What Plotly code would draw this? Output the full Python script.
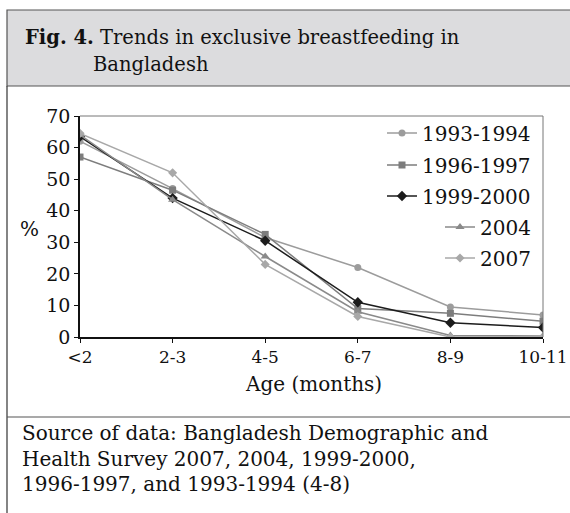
import plotly.graph_objects as go

categories = ["<2", "2-3", "4-5", "6-7", "8-9", "10-11"]
s1993 = [62, 47, 31.5, 22, 9.5, 7]
s1996 = [57, 46.5, 32.5, 9, 7.5, 5]
s1999 = [63.5, 44, 30.5, 11, 4.5, 3]
s2004 = [64, 43.5, 25.5, 8, 0.5, 0.3]
s2007 = [64.5, 52, 23, 6.5, 0, 0]
y_ticks = [0, 10, 20, 30, 40, 50, 60, 70]

W, H = 570, 513
L, R, T, B = 80, 543, 116, 337
FONT = "DejaVu Serif"

def px(x):
    return (x - L) / (R - L)

def py(y):
    return (B - y) / (B - T)

series = [
    ("1993-1994", s1993, "#9c9c9c", "circle", 7),
    ("1996-1997", s1996, "#7d7d7d", "square", 7),
    ("1999-2000", s1999, "#1c1c1c", "diamond", 8),
    ("2004", s2004, "#8a8a8a", "triangle-up", 8),
    ("2007", s2007, "#a8a8a8", "diamond", 7),
]
leg_y = [133, 165, 196, 227, 258]

fig = go.Figure()
for i, (name, vals, col, sym, ms) in enumerate(series):
    lk = "legend" if i == 0 else f"legend{i+1}"
    fig.add_trace(go.Scatter(
        x=categories, y=vals, name=name, mode="lines+markers",
        line=dict(color=col, width=1.5),
        marker=dict(symbol=sym, size=ms, color=col),
        legend=lk,
    ))

layout_legends = {}
for i in range(5):
    lk = "legend" if i == 0 else f"legend{i+1}"
    layout_legends[lk] = dict(
        x=px(536), y=py(leg_y[i]), xanchor="right", yanchor="middle",
        bgcolor="rgba(0,0,0,0)", borderwidth=0,
        font=dict(family=FONT, size=20, color="#111"),
        itemwidth=30, tracegroupgap=0,
    )

shapes = [
    dict(type="rect", xref="paper", yref="paper", x0=px(7), x1=px(575), y0=py(86), y1=py(10),
         fillcolor="#dcdcde", line=dict(color="#555", width=1.2), layer="below"),
    dict(type="line", xref="paper", yref="paper", x0=px(7), x1=px(7), y0=py(86), y1=py(520),
         line=dict(color="#333", width=1.2)),
    dict(type="line", xref="paper", yref="paper", x0=px(7), x1=px(575), y0=py(417), y1=py(417),
         line=dict(color="#555", width=1.2)),
    dict(type="line", xref="paper", yref="paper", x0=0, x1=1, y0=1, y1=1,
         line=dict(color="#777", width=1)),
    dict(type="line", xref="paper", yref="paper", x0=1, x1=1, y0=0, y1=1,
         line=dict(color="#777", width=1)),
]

annotations = [
    dict(text="<b>Fig. 4.</b> Trends in exclusive breastfeeding in", xref="paper", yref="paper",
         x=px(23), y=py(38), xanchor="left", yanchor="middle", showarrow=False,
         font=dict(family=FONT, size=19.5, color="#111")),
    dict(text="Bangladesh", xref="paper", yref="paper",
         x=px(91), y=py(65), xanchor="left", yanchor="middle", showarrow=False,
         font=dict(family=FONT, size=19.5, color="#111")),
    dict(text="%", xref="paper", yref="paper", x=px(29), y=py(229), xanchor="center",
         yanchor="middle", showarrow=False, font=dict(family=FONT, size=20, color="#111")),
    dict(text="Age (months)", xref="paper", yref="paper", x=px(313), y=py(384), xanchor="center",
         yanchor="middle", showarrow=False, font=dict(family=FONT, size=20, color="#111")),
]
src_lines = ["Source of data: Bangladesh Demographic and",
             "Health Survey 2007, 2004, 1999-2000,",
             "1996-1997, and 1993-1994 (4-8)"]
for k, t in enumerate(src_lines):
    annotations.append(dict(text=t, xref="paper", yref="paper", x=px(20), y=py(433 + 25.5 * k),
                            xanchor="left", yanchor="middle", showarrow=False,
                            font=dict(family=FONT, size=20, color="#111")))

fig.update_layout(
    width=W, height=H, autosize=False,
    margin=dict(l=L, r=W - R, t=T, b=H - B, pad=0),
    paper_bgcolor="white", plot_bgcolor="white",
    showlegend=True,
    shapes=shapes, annotations=annotations,
    **layout_legends,
)
fig.update_xaxes(
    type="category", range=[0, 5], showgrid=False, zeroline=False, automargin=False,
    showline=True, linecolor="#111", linewidth=1.5,
    ticks="outside", ticklen=4, tickcolor="#111",
    ticklabeloverflow="allow",
    tickfont=dict(family=FONT, size=17, color="#111"),
)
fig.update_yaxes(
    range=[0, 70], tickvals=y_ticks, showgrid=False, zeroline=False, automargin=False,
    showline=True, linecolor="#111", linewidth=1.5,
    ticks="outside", ticklen=4, tickcolor="#111",
    tickfont=dict(family=FONT, size=19, color="#111"),
)
fig.write_html("out.html", config={"displayModeBar": False},
               post_script="document.body.style.margin='0';")
